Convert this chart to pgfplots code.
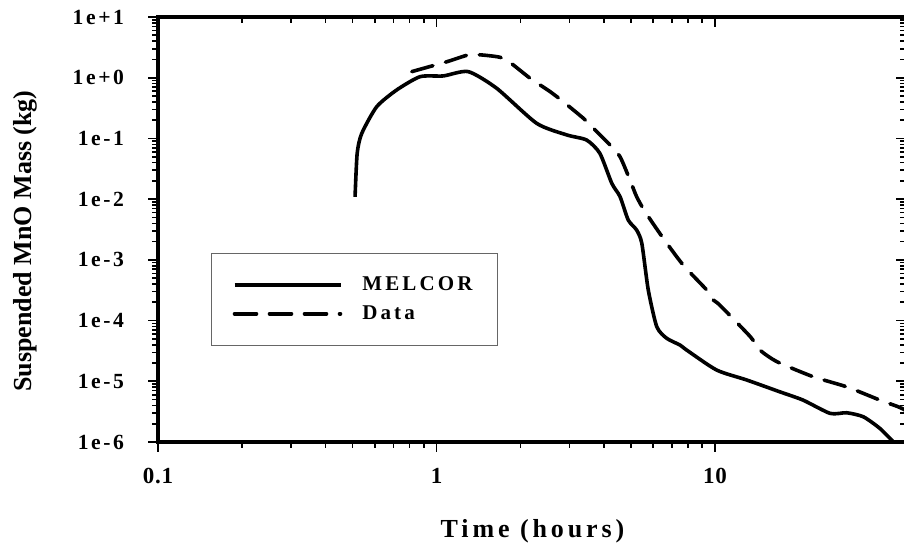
\documentclass[border=0pt]{standalone}
\usepackage{fontspec}
\setmainfont{Liberation Serif}
\newfontfamily\spaced{Liberation Serif}[LetterSpace=15]
\newfontfamily\ytickfont{Liberation Serif}[LetterSpace=12]
\newfontfamily\xtickfont{Liberation Serif}[LetterSpace=3]
\usepackage{pgfplots}
\pgfplotsset{compat=1.18}

\begin{document}
\begin{tikzpicture}
\begin{axis}[name=ax,
  width=374pt, height=212.5pt, scale only axis,
  xmode=log, ymode=log,
  xmin=0.1, xmax=48.5, ymin=1e-6, ymax=10,
  axis line style={line width=2.4pt},
  tick style={line width=0.8pt, black},
  major tick length=5pt, minor tick length=3pt,
  xtick={0.1,1,10}, ytick={1e-6,1e-5,1e-4,1e-3,1e-2,1e-1,1,10},
  xtick pos=bottom, ytick pos=left, tick align=outside,
  xticklabels={0.1,1,10},
  yticklabels={1e-6,1e-5,1e-4,1e-3,1e-2,1e-1,1e+0,1e+1},
  xticklabel style={font=\xtickfont\bfseries\fontsize{11.5}{13}\selectfont, anchor=center, yshift=-12pt},
  yticklabel style={font=\ytickfont\bfseries\fontsize{10.8}{12}\selectfont, anchor=east, xshift=-8.5pt},
  xlabel={Time (hours)},
  xlabel style={font=\spaced\bfseries\fontsize{13}{15}\selectfont, at={(axis description cs:0.5007,-0.21)}, anchor=center},
  ylabel={Suspended MnO Mass (kg)},
  ylabel style={font=\bfseries\fontsize{13}{15}\selectfont, at={(axis description cs:-0.178,0.473)}, anchor=center},
  legend style={at={(0.071,0.445)}, anchor=north west, draw=black!60, line width=0.6pt,
    inner xsep=10.5pt, inner ysep=9.5pt, row sep=2pt, column sep=8pt,
    font=\spaced\bfseries\fontsize{10.5}{12}\selectfont, cells={anchor=west}},
  legend image code/.code={\draw[#1] (0pt,0pt) -- (53pt,0pt);},
]
\addplot[black, line width=1.8pt, line join=round, smooth, tension=0.4] coordinates {
  (0.51,0.0109) (0.519,0.0568) (0.539,0.121) (0.61,0.333) (0.719,0.627)
  (0.873,1.04) (1.058,1.07) (1.30,1.26) (1.645,0.669) (2.29,0.177)
  (2.94,0.114) (3.46,0.094) (3.86,0.0568) (4.26,0.0182) (4.56,0.011)
  (4.88,0.00453) (5.23,0.0031) (5.46,0.00187) (5.76,3.18e-4) (6.18,7.9e-5)
  (6.71,5.1e-5) (7.49,3.95e-5) (7.91,3.27e-5) (10.14,1.53e-5) (13.0,1.05e-5)
  (17.1,6.7e-6) (20.7,4.9e-6) (25.9,2.96e-6) (29.7,3.03e-6) (34.1,2.6e-6)
  (39.1,1.67e-6) (43.7,1e-6)
};
\addlegendentry{MELCOR}
\addplot[black, line width=1.8pt, line cap=round, dash pattern=on 11pt off 6.5pt, smooth, tension=0.4] coordinates {
  (0.815,1.26) (1.088,1.83) (1.30,2.37) (1.453,2.37) (1.69,2.17)
  (1.84,1.77) (2.17,0.977) (2.56,0.588) (2.85,0.403) (3.37,0.214)
  (3.66,0.147) (4.20,0.0778) (4.56,0.050) (4.95,0.0207) (5.23,0.011)
  (5.61,0.0062) (6.52,0.00226) (7.69,8.2e-4) (9.34,3.18e-4) (9.86,2.18e-4)
  (10.4,1.8e-4) (13.4,5.4e-5) (14.5,3.27e-5) (16.7,2.1e-5) (22.5,1.19e-5)
  (29.7,8.1e-6) (39.1,4.9e-6) (45.5,3.8e-6) (48.5,3.3e-6)
};
\addlegendentry{Data}
\end{axis}
\begin{axis}[
  width=374pt, height=212.5pt, scale only axis,
  xmode=log, ymode=log,
  xmin=0.1, xmax=48.5, ymin=1e-6, ymax=10,
  axis line style={draw=none},
  tick style={line width=0.8pt, black},
  major tick length=5pt, minor tick length=3pt,
  xtick={0.1,1,10}, ytick={1e-6,1e-5,1e-4,1e-3,1e-2,1e-1,1,10},
  xtick pos=right, ytick pos=right, tick align=inside,
  xticklabels={}, yticklabels={},
]
\end{axis}
\pgfresetboundingbox
\path ([shift={(-79pt,-54pt)}]ax.south west) rectangle ([shift={(-1pt,8.5pt)}]ax.north east);
\end{tikzpicture}
\end{document}
